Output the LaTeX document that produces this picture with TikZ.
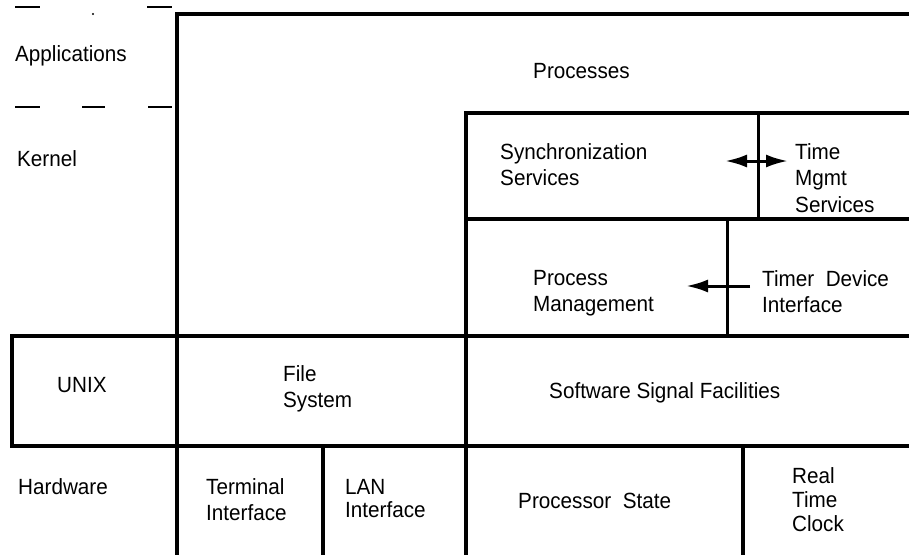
\documentclass[tikz,border=0pt]{standalone}
\usepackage{fontspec}
\setmainfont{Liberation Sans}[FakeStretch=0.94]
\usetikzlibrary{arrows.meta}
\tikzset{
  wall/.style={line width=4pt, line cap=rect},
  thinwall/.style={line width=3pt},
  tick/.style={line width=1.5pt},
  lbl/.style={anchor=north west, inner sep=0pt, align=left,
              font=\fontsize{22}{26.5}\selectfont},
  flow/.style={line width=3pt, -{Latex[length=22pt,width=13pt]}},
  flow2/.style={line width=3pt, {Latex[length=22pt,width=13pt]}-{Latex[length=22pt,width=13pt]}}
}
\begin{document}
\begin{tikzpicture}[x=1pt,y=-1pt]
\useasboundingbox[fill=white] (0,0) rectangle (909,554);

% layer boundaries
\draw[wall] (177,554) -- (177,14) -- (909,14);
\draw[wall] (909,113) -- (466,113) -- (466,554);
\draw[wall] (466,219) -- (909,219);
\draw[thinwall] (758,113) -- (758,219);
\draw[thinwall] (727,219) -- (727,336);
\draw[wall] (909,336) -- (12,336) -- (12,446) -- (909,446);
\draw[wall] (323,446) -- (323,554);
\draw[wall] (743,446) -- (743,554);

% dashed separator marks on the left
\draw[tick] (15,7) -- (40,7);
\fill (93,14) circle (1.2pt);
\draw[tick] (147,7) -- (172,7);
\draw[tick] (15,107) -- (40,107);
\draw[tick] (82,107) -- (105,107);
\draw[tick] (148,107) -- (172,107);

% labels
\node[lbl] (app) at (15,45) {Applications};
\node[lbl] (kern) at (17,150) {Kernel};
\node[lbl] (procs) at (533,63) {Processes};
\node[lbl] (sync) at (500,143) {Synchronization\\Services};
\node[lbl] (tms) at (795,143) {Time\\Mgmt\\Services};
\node[lbl] (pm) at (533,270) {Process\\Management};
\node[lbl] (tdi) at (762,270) {Timer\ \ Device\\Interface};
\node[lbl] (unix) at (57,377) {UNIX};
\node[lbl] (fs) at (283,365) {File\\System};
\node[lbl] (ssf) at (549,382) {Software Signal Facilities};
\node[lbl] (hw) at (18,478) {Hardware};
\node[lbl] (ti) at (206,478) {Terminal\\Interface};
\node[lbl, font=\fontsize{22}{23.5}\selectfont] (lan) at (345,479) {LAN\\Interface};
\node[lbl] (ps) at (518,493) {Processor\ \ State};
\node[lbl, font=\fontsize{22}{24}\selectfont] (rtc) at (792,467) {Real\\Time\\Clock};

% interactions
\coordinate (syncR) at (725,161);
\coordinate (tmsL) at (788,161);
\draw[flow2] (syncR) -- (tmsL);
\coordinate (tdiL) at (750,286);
\coordinate (pmR) at (686,286);
\draw[flow] (tdiL) -- (pmR);
\end{tikzpicture}
\end{document}
